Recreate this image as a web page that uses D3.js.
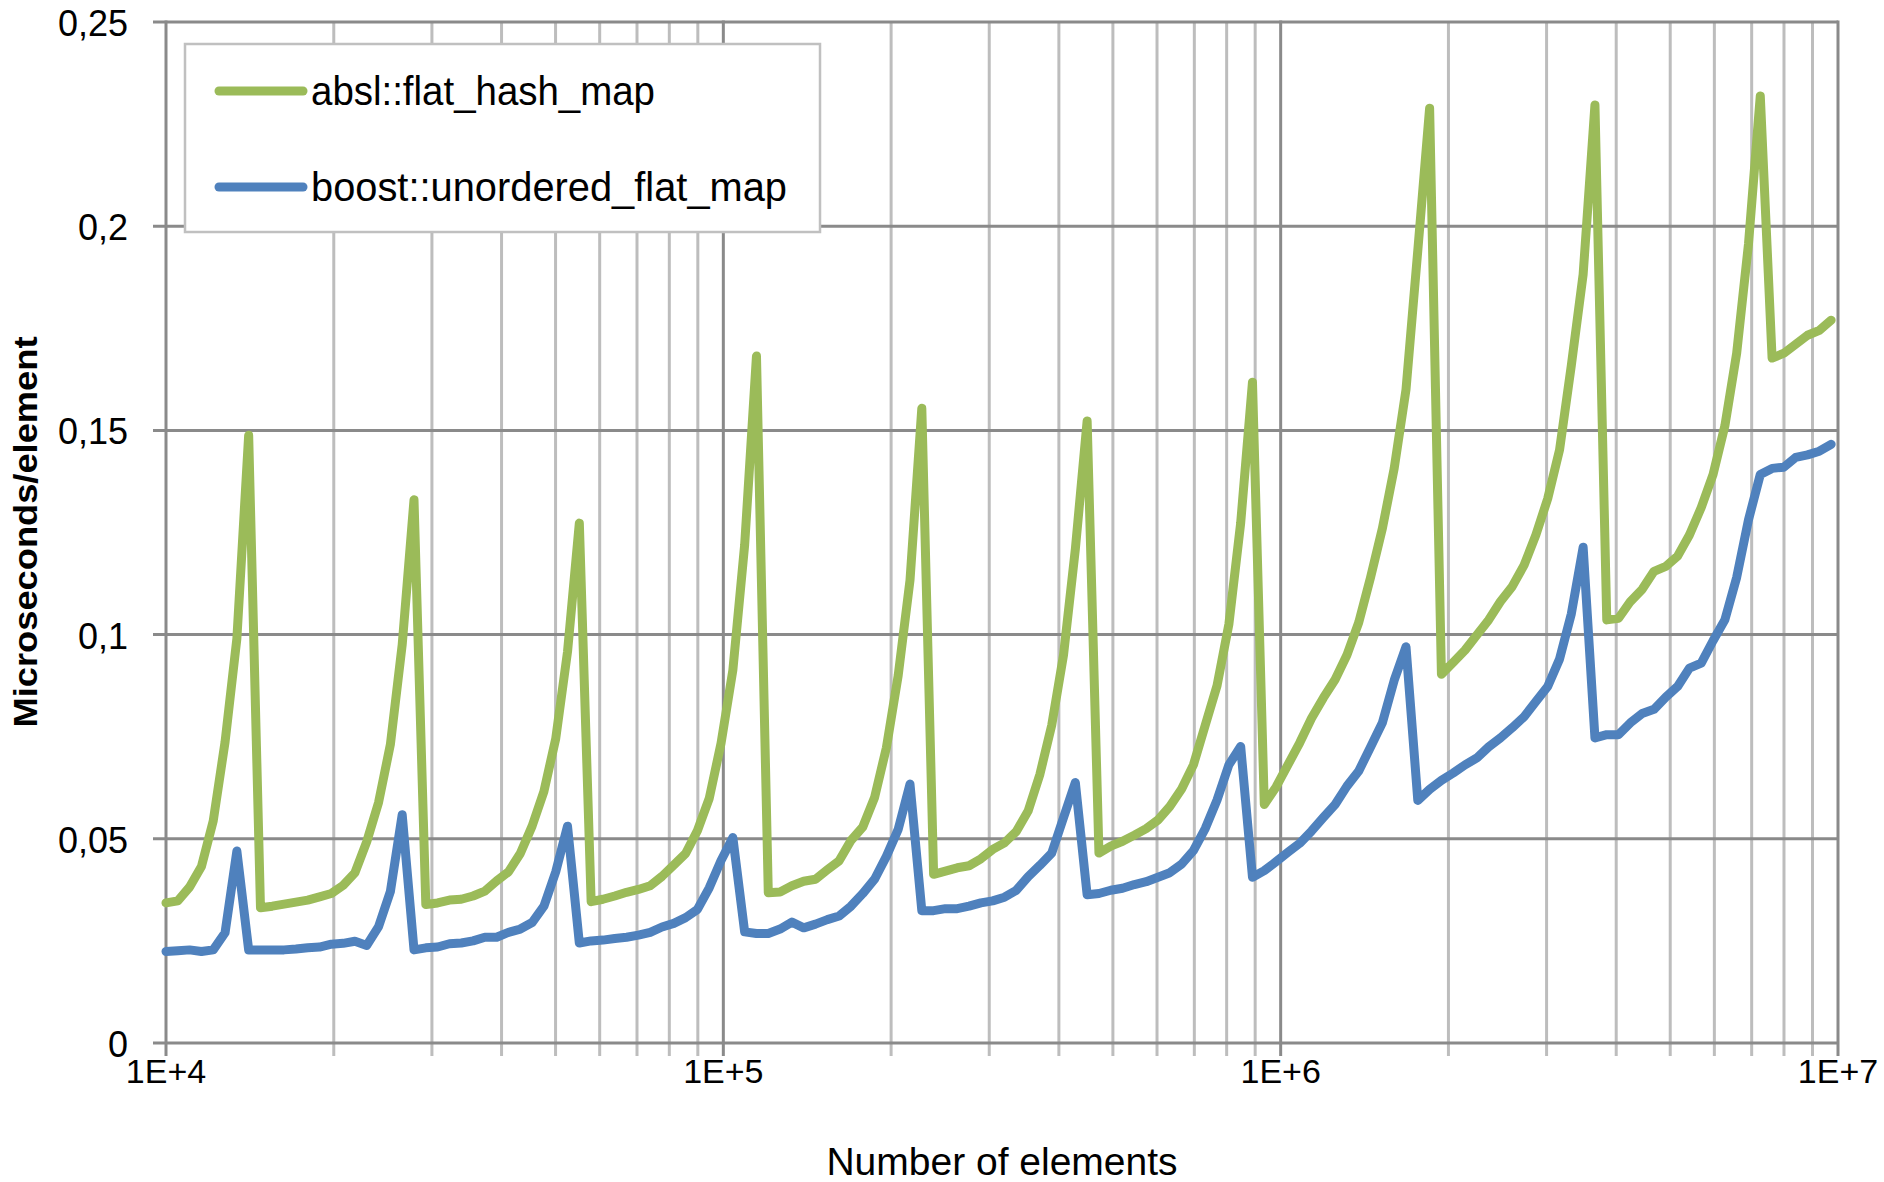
<!DOCTYPE html>
<html>
<head>
<meta charset="utf-8">
<script src="https://cdn.jsdelivr.net/npm/d3@7"></script>
<style>
  body { margin: 0; background: #fff; }
  text { font-family: "Liberation Sans", Arial, sans-serif; fill: #000; }
</style>
</head>
<body>
<svg id="chart" width="1884" height="1182"></svg>
<script>
// number of elements (x), 5% steps from 1E+4 up to 1E+7
var sizes = [
  10000, 10500, 11025, 11576, 12155, 12763, 13401, 14071, 14775, 15513,
  16289, 17103, 17959, 18856, 19799, 20789, 21829, 22920, 24066, 25270,
  26533, 27860, 29253, 30715, 32251, 33864, 35557, 37335, 39201, 41161,
  43219, 45380, 47649, 50032, 52533, 55160, 57918, 60814, 63855, 67048,
  70400, 73920, 77616, 81497, 85572, 89850, 94343, 99060, 104013, 109213,
  114674, 120408, 126428, 132750, 139387, 146356, 153674, 161358, 169426, 177897,
  186792, 196131, 205938, 216235, 227047, 238399, 250319, 262835, 275977, 289775,
  304264, 319477, 335451, 352224, 369835, 388327, 407743, 428130, 449537, 472014,
  495614, 520395, 546415, 573736, 602422, 632544, 664171, 697379, 732248, 768861,
  807304, 847669, 890052, 934555, 981283, 1030347, 1081864, 1135957, 1192755, 1252393,
  1315013, 1380763, 1449802, 1522292, 1598406, 1678327, 1762243, 1850355, 1942873, 2040017,
  2142017, 2249118, 2361574, 2479653, 2603635, 2733817, 2870508, 3014033, 3164735, 3322972,
  3489120, 3663576, 3846755, 4039093, 4241047, 4453100, 4675755, 4909542, 5155020, 5412771,
  5683409, 5967580, 6265959, 6579257, 6908220, 7253631, 7616312, 7997128, 8396984, 8816834,
  9257675, 9720559
];

// microseconds per element, absl::flat_hash_map
var abslTimes = [
  0.0343, 0.0348, 0.0382, 0.0432, 0.0544, 0.0737, 0.0990, 0.1488, 0.0331, 0.0335,
  0.0340, 0.0345, 0.0350, 0.0358, 0.0366, 0.0386, 0.0417, 0.0493, 0.0589, 0.0731,
  0.0975, 0.1330, 0.0339, 0.0343, 0.0350, 0.0352, 0.0360, 0.0372, 0.0397, 0.0419,
  0.0464, 0.0531, 0.0616, 0.0745, 0.0958, 0.1273, 0.0346, 0.0352, 0.0360, 0.0369,
  0.0376, 0.0385, 0.0408, 0.0436, 0.0464, 0.0520, 0.0599, 0.0734, 0.0913, 0.1220,
  0.1682, 0.0368, 0.0370, 0.0385, 0.0396, 0.0401, 0.0424, 0.0446, 0.0496, 0.0529,
  0.0601, 0.0723, 0.0900, 0.1133, 0.1554, 0.0413, 0.0421, 0.0429, 0.0434, 0.0451,
  0.0474, 0.0490, 0.0518, 0.0568, 0.0658, 0.0778, 0.0950, 0.1209, 0.1523, 0.0465,
  0.0482, 0.0494, 0.0509, 0.0525, 0.0546, 0.0579, 0.0622, 0.0681, 0.0778, 0.0875,
  0.1025, 0.1273, 0.1618, 0.0584, 0.0627, 0.0681, 0.0735, 0.0795, 0.0845, 0.0890,
  0.0950, 0.1030, 0.1140, 0.1260, 0.1407, 0.1600, 0.1941, 0.2289, 0.0903, 0.0932,
  0.0962, 0.0999, 0.1036, 0.1081, 0.1118, 0.1170, 0.1244, 0.1333, 0.1452, 0.1659,
  0.1882, 0.2297, 0.1036, 0.1040, 0.1081, 0.1111, 0.1155, 0.1167, 0.1192, 0.1244,
  0.1311, 0.1392, 0.1511, 0.1689, 0.1956, 0.2319, 0.1677, 0.1689, 0.1711, 0.1733,
  0.1745, 0.1770
];

// microseconds per element, boost::unordered_flat_map
var boostTimes = [
  0.0224, 0.0226, 0.0228, 0.0224, 0.0228, 0.0270, 0.0470, 0.0228, 0.0228, 0.0228,
  0.0228, 0.0230, 0.0233, 0.0235, 0.0242, 0.0244, 0.0249, 0.0239, 0.0285, 0.0371,
  0.0559, 0.0228, 0.0233, 0.0235, 0.0243, 0.0245, 0.0250, 0.0259, 0.0259, 0.0271,
  0.0279, 0.0295, 0.0335, 0.0419, 0.0531, 0.0245, 0.0250, 0.0252, 0.0256, 0.0259,
  0.0264, 0.0271, 0.0284, 0.0293, 0.0307, 0.0327, 0.0380, 0.0447, 0.0503, 0.0272,
  0.0268, 0.0268, 0.0279, 0.0296, 0.0282, 0.0291, 0.0302, 0.0311, 0.0335, 0.0366,
  0.0401, 0.0457, 0.0523, 0.0634, 0.0324, 0.0324, 0.0329, 0.0329, 0.0335, 0.0343,
  0.0348, 0.0357, 0.0374, 0.0407, 0.0435, 0.0465, 0.0552, 0.0638, 0.0363, 0.0366,
  0.0374, 0.0379, 0.0388, 0.0395, 0.0406, 0.0417, 0.0438, 0.0471, 0.0525, 0.0595,
  0.0681, 0.0726, 0.0406, 0.0422, 0.0444, 0.0467, 0.0489, 0.0519, 0.0552, 0.0584,
  0.0629, 0.0666, 0.0725, 0.0784, 0.0888, 0.0970, 0.0594, 0.0621, 0.0643, 0.0661,
  0.0681, 0.0698, 0.0725, 0.0747, 0.0772, 0.0799, 0.0836, 0.0873, 0.0940, 0.1051,
  0.1214, 0.0747, 0.0755, 0.0755, 0.0784, 0.0807, 0.0817, 0.0847, 0.0873, 0.0918,
  0.0930, 0.0985, 0.1036, 0.1140, 0.1281, 0.1392, 0.1407, 0.1410, 0.1434, 0.1440,
  0.1449, 0.1466
];

var yTicks = [0, 0.05, 0.1, 0.15, 0.2, 0.25];
var yTickLabels = ["0", "0,05", "0,1", "0,15", "0,2", "0,25"];
var xMajor = [1e4, 1e5, 1e6, 1e7];
var xTickLabels = ["1E+4", "1E+5", "1E+6", "1E+7"];
var seriesNames = ["absl::flat_hash_map", "boost::unordered_flat_map"];
var seriesColors = ["#9bbb59", "#4f81bd"];

var svg = d3.select("#chart");

var x = d3.scaleLog().domain([1e4, 1e7]).range([166, 1838]);
var y = d3.scaleLinear().domain([0, 0.25]).range([1043, 22]);

// minor decade lines 2..9
var xMinor = [];
xMajor.slice(0, 3).forEach(function(d) {
  for (var k = 2; k <= 9; k++) xMinor.push(d * k);
});

var grid = svg.append("g");

grid.selectAll("line.minor")
    .data(xMinor)
    .enter().append("line")
    .attr("x1", function(d) { return x(d); })
    .attr("x2", function(d) { return x(d); })
    .attr("y1", y(0.25))
    .attr("y2", y(0) + 13)
    .attr("stroke", "#bdbdbd")
    .attr("stroke-width", 3);

grid.selectAll("line.hz")
    .data(yTicks)
    .enter().append("line")
    .attr("x1", x(1e4) - 13)
    .attr("x2", x(1e7))
    .attr("y1", function(d) { return y(d); })
    .attr("y2", function(d) { return y(d); })
    .attr("stroke", "#8a8a8a")
    .attr("stroke-width", 3);

grid.selectAll("line.major")
    .data(xMajor)
    .enter().append("line")
    .attr("x1", function(d) { return x(d); })
    .attr("x2", function(d) { return x(d); })
    .attr("y1", y(0.25) - 1.5)
    .attr("y2", y(0) + 13)
    .attr("stroke", "#8a8a8a")
    .attr("stroke-width", 3);

// y tick labels
svg.selectAll("text.ytick")
   .data(yTicks)
   .enter().append("text")
   .attr("x", 128)
   .attr("y", function(d) { return y(d) + 14; })
   .attr("text-anchor", "end")
   .style("font-size", "36px")
   .text(function(d, i) { return yTickLabels[i]; });

// x tick labels
svg.selectAll("text.xtick")
   .data(xMajor)
   .enter().append("text")
   .attr("x", function(d) { return x(d); })
   .attr("y", 1083)
   .attr("text-anchor", "middle")
   .style("font-size", "34px")
   .text(function(d, i) { return xTickLabels[i]; });

// axis titles
svg.append("text")
   .attr("x", (x(1e4) + x(1e7)) / 2)
   .attr("y", 1175)
   .attr("text-anchor", "middle")
   .style("font-size", "39px")
   .text("Number of elements");

svg.append("text")
   .attr("transform", "translate(37,532) rotate(-90)")
   .attr("text-anchor", "middle")
   .attr("textLength", 391)
   .attr("lengthAdjust", "spacingAndGlyphs")
   .style("font-size", "34px")
   .style("font-weight", "bold")
   .text("Microseconds/element");

// series
var line = d3.line()
    .x(function(d) { return x(d[0]); })
    .y(function(d) { return y(d[1]); });

[boostTimes, abslTimes].forEach(function(vals, j) {
  var color = j === 0 ? seriesColors[1] : seriesColors[0];
  svg.append("path")
     .datum(d3.zip(sizes, vals))
     .attr("d", line)
     .attr("fill", "none")
     .attr("stroke", color)
     .attr("stroke-width", 9)
     .attr("stroke-linejoin", "round")
     .attr("stroke-linecap", "round");
});

// legend
var legend = svg.append("g");
legend.append("rect")
      .attr("x", 185)
      .attr("y", 44)
      .attr("width", 635)
      .attr("height", 188)
      .attr("fill", "#fff")
      .attr("stroke", "#c0c0c0")
      .attr("stroke-width", 2.5);

var legendY = [91, 187];
var legendTextWidth = [344, 476];
seriesNames.forEach(function(name, i) {
  legend.append("line")
        .attr("x1", 219).attr("x2", 303)
        .attr("y1", legendY[i]).attr("y2", legendY[i])
        .attr("stroke", seriesColors[i])
        .attr("stroke-width", 9)
        .attr("stroke-linecap", "round");
  legend.append("text")
        .attr("x", 311)
        .attr("y", legendY[i] + 14)
        .attr("textLength", legendTextWidth[i])
        .attr("lengthAdjust", "spacingAndGlyphs")
        .style("font-size", "40px")
        .text(name);
});
</script>
</body>
</html>
